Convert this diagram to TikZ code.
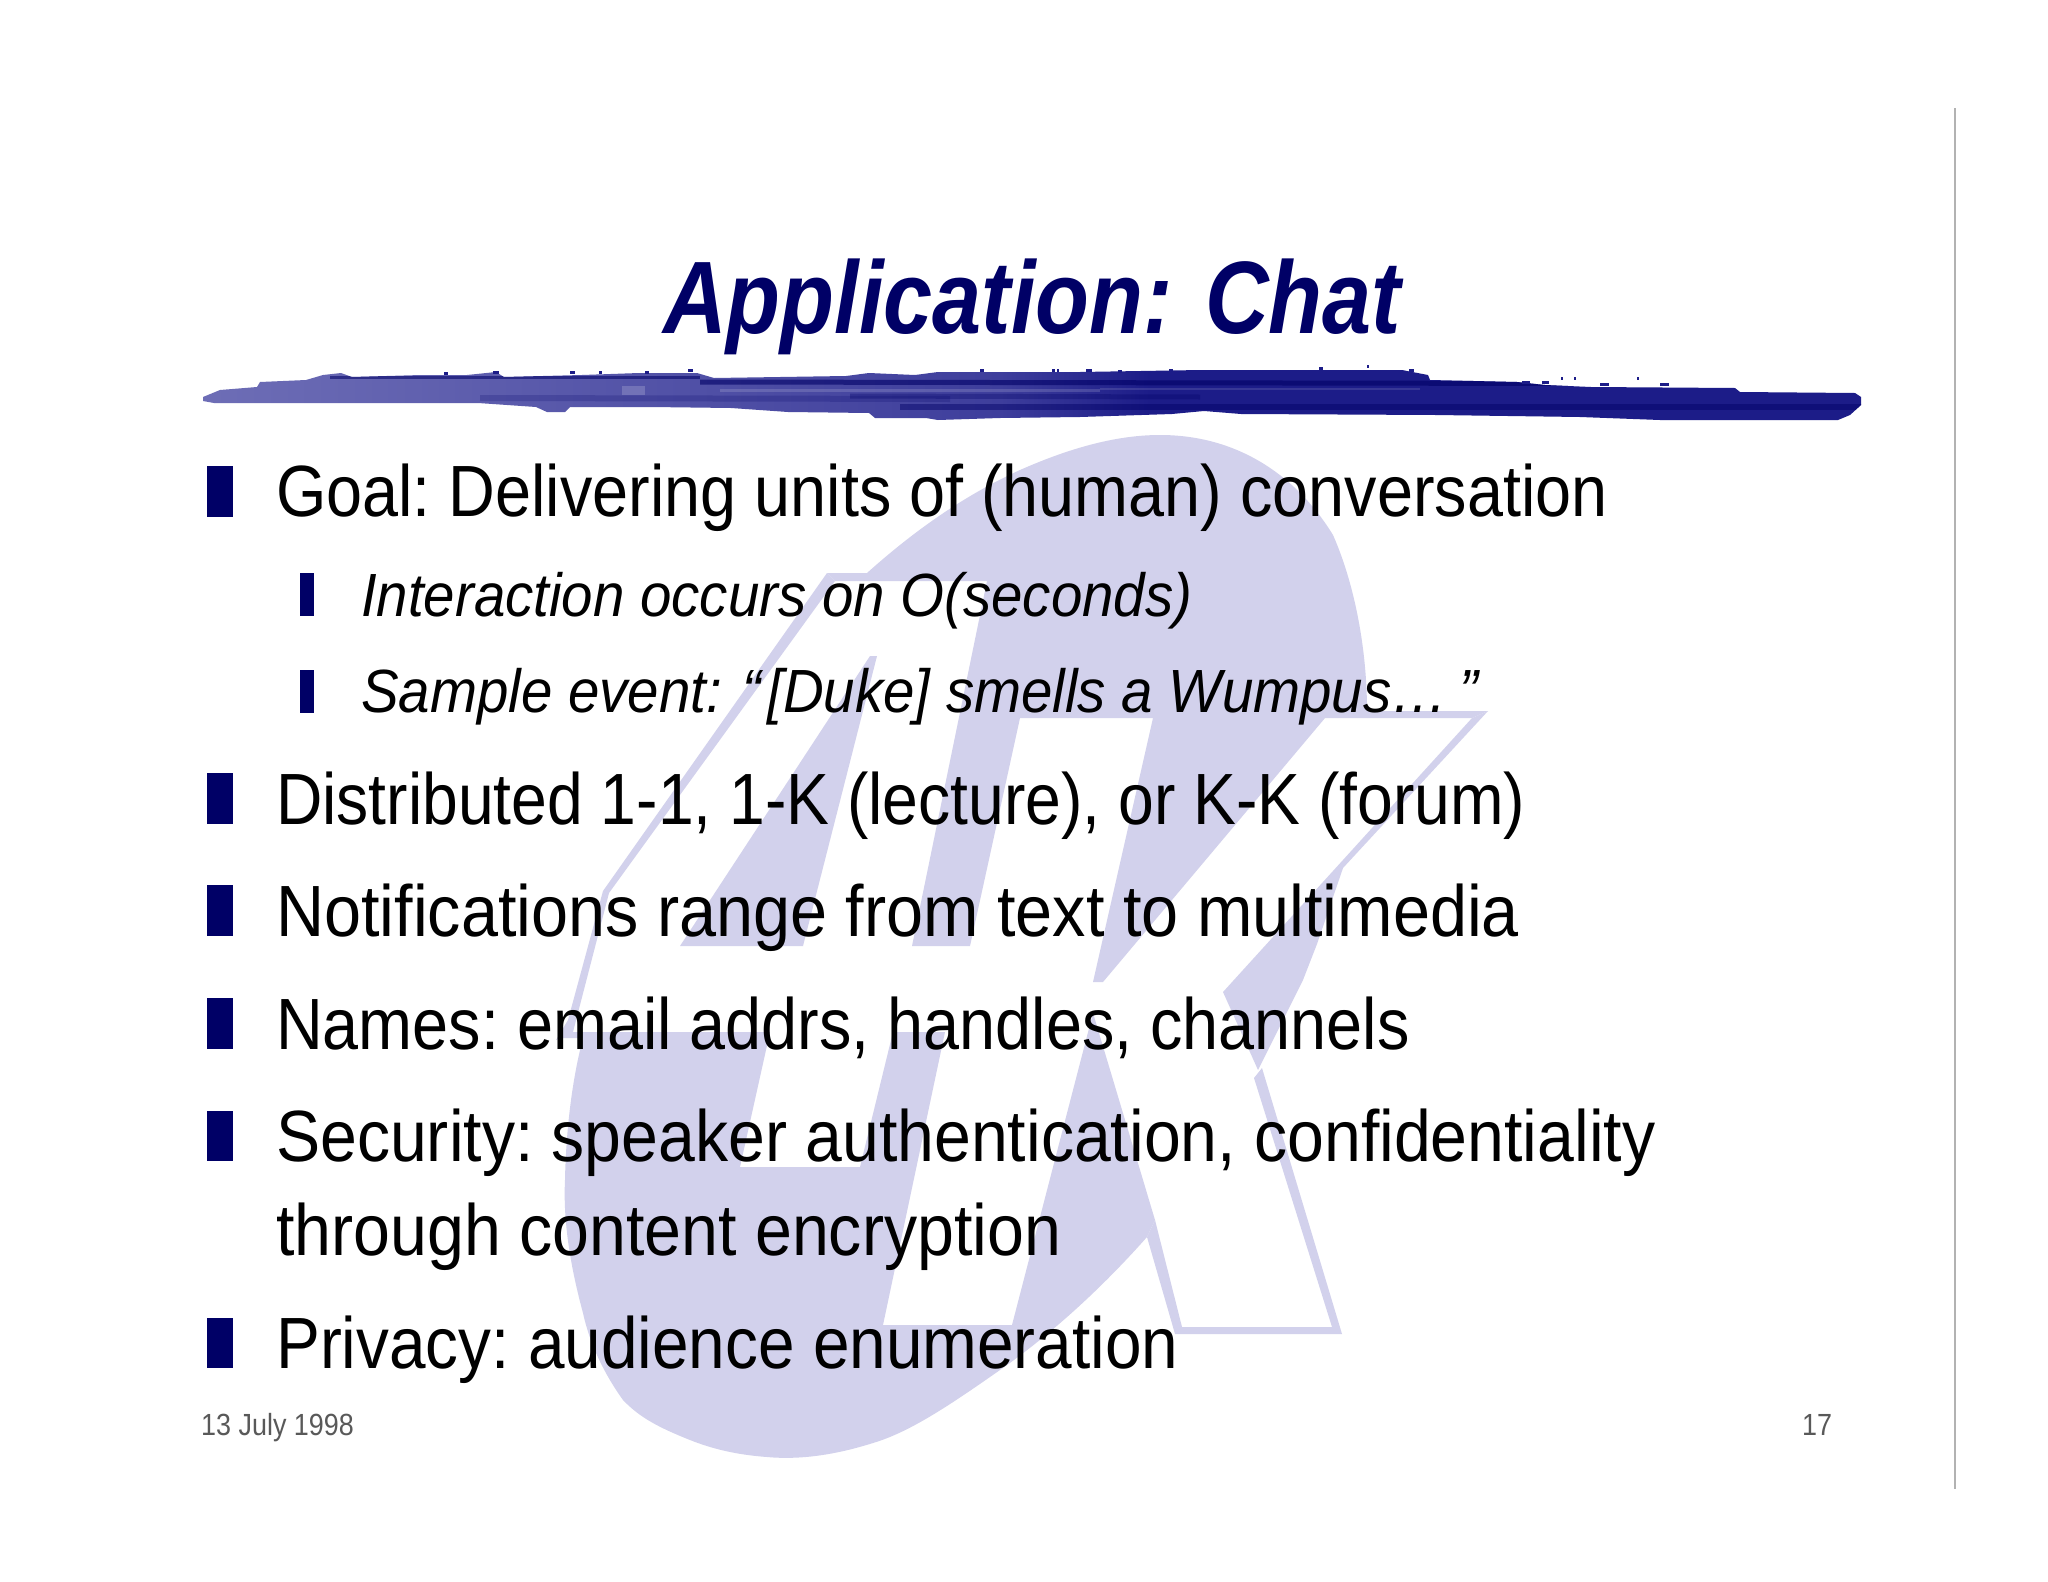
\documentclass[tikz,border=0pt]{standalone}
\usepackage{fontspec}
\usepackage{graphicx}
\setmainfont{Liberation Sans}
\newfontfamily\fbig[FakeStretch=0.89]{Liberation Sans}
\newfontfamily\fsmall[FakeStretch=0.925]{Liberation Sans}
\newfontfamily\ftitle[FakeStretch=0.856]{Liberation Sans}
\newfontfamily\ffoot[FakeStretch=0.88]{Liberation Sans}
\newcommand{\xs}[2]{\scalebox{#1}[1]{#2}}
\definecolor{logoblue}{HTML}{D2D1EC}
\definecolor{navy}{HTML}{000066}
\definecolor{brushL}{HTML}{6E6EB6}
\definecolor{brushM}{HTML}{3E3E9C}
\definecolor{brushR}{HTML}{1C1C88}
\tikzset{
  logo/.style={fill=logoblue,draw=none},
  big/.style={anchor=base west,inner sep=0pt,font=\fbig\fontsize{72.6}{80}\selectfont\frenchspacing,text=black},
  small/.style={anchor=base west,inner sep=0pt,font=\fsmall\fontsize{61}{70}\selectfont\itshape,text=black},
  foot/.style={anchor=base west,inner sep=0pt,font=\ffoot\fontsize{30.6}{34}\selectfont,text=black!65},
  bulletbig/.style={fill=navy,draw=none},
  streak/.style={draw=navy,opacity=0.35,line width=3pt},
}
\begin{document}
\begin{tikzpicture}[x=1pt,y=-1pt]
\useasboundingbox (0,0) rectangle (2048,1582);
\fill[white] (0,0) rectangle (2048,1582);
% logo: top cap with K notch
\fill[logo] (827,573) -- (867,573)
  .. controls (915,530) and (965,495) .. (1020,470)
  .. controls (1072,447) and (1118,435) .. (1160,435)
  .. controls (1240,435) and (1298,478) .. (1333,535)
  .. controls (1355,585) and (1367,650) .. (1367,711)
  -- (1488,711) -- (1472,718) -- (1325,718) -- (1103,982) -- (1093,982) -- (1153,718)
  -- (1020,718) -- (970,946) -- (912,946) -- (987,581) -- (835,581) -- cycle;
% left stripe
\fill[logo] (870,656) -- (877,656) -- (803,946) -- (680,946) -- cycle;
% left outline band
\fill[logo] (827,573) -- (835,581) -- (609,893) -- (573,1032) -- (556,1040) -- (568,1020) -- (603,891) -- cycle;
% U body
\fill[logo] (560,1032) -- (770,1032) -- (740,1167) -- (860,1167) -- (893,1032) -- (945,1032)
  -- (883,1325) -- (1012,1325) -- (1093,1013) -- (1155,1220) -- (1147,1237)
  .. controls (1100,1290) and (1050,1335) .. (1000,1370)
  .. controls (950,1405) and (910,1432) .. (873,1443)
  .. controls (835,1455) and (800,1460) .. (767,1457)
  .. controls (740,1455) and (715,1450) .. (690,1440)
  .. controls (660,1428) and (640,1418) .. (623,1400)
  .. controls (605,1375) and (590,1345) .. (583,1313)
  .. controls (570,1265) and (563,1220) .. (565,1180)
  .. controls (566,1130) and (572,1080) .. (583,1038)
  -- (560,1038) -- cycle;
% K lower outline band
\fill[logo] (1147,1237) -- (1175,1334) -- (1342,1334) -- (1262,1068) -- (1254,1078) -- (1332,1327) -- (1182,1327) -- (1155,1220) -- cycle;
% K arm
\fill[logo] (1488,711) -- (1343,868) -- (1317,944) -- (1303,980) -- (1258,1070) -- (1223,992) -- (1472,718) -- cycle;
% brush stroke
\begin{scope}
\path[clip] (203,397) -- (220,390) -- (257,387) -- (260,382) -- (306,380) -- (323,375) -- (341,373) -- (352,377)
  -- (421,375) -- (467,375) -- (496,372) -- (504,377) -- (582,375) -- (639,373) -- (697,373) -- (714,378)
  -- (846,376) -- (869,373) -- (915,375) -- (938,372) -- (1080,372) -- (1201,370) -- (1402,370) -- (1428,375)
  -- (1430,380) -- (1517,382) -- (1545,385) -- (1591,387) -- (1735,388) -- (1740,392) -- (1855,393) -- (1861,397)
  -- (1861,405) -- (1850,415) -- (1838,420) -- (1792,420) -- (1660,420) -- (1580,417) -- (1436,415) -- (1241,414)
  -- (1204,411) -- (1172,414) -- (1080,417) -- (1000,418) -- (938,420) -- (926,418) -- (875,418) -- (869,413)
  -- (788,412) -- (731,408) -- (651,407) -- (570,407) -- (565,412) -- (547,412) -- (536,407) -- (478,403)
  -- (255,403) -- (214,403) -- (203,401) -- cycle;
\shade[left color=brushL,right color=brushM] (195,365) rectangle (1000,425);
\shade[left color=brushM,right color=brushR] (1000,365) rectangle (1150,425);
\fill[brushR] (1150,365) rectangle (1870,425);
\draw[streak,opacity=.55] (330,377) -- (700,377);
\draw[streak,opacity=.6,line width=5pt] (700,382) -- (1870,384);
\draw[streak,opacity=.3,line width=5pt] (850,396) -- (1200,397);
\draw[streak,opacity=.45,line width=6pt] (900,407) -- (1870,407);
\draw[streak,opacity=.2,line width=6pt] (480,398) -- (950,399);
\draw[streak,draw=white,opacity=.18,line width=9pt] (622,390) -- (645,390);
\draw[streak,draw=white,opacity=.15,line width=3pt] (720,390) -- (1100,390);
\draw[streak,draw=white,opacity=.12,line width=2pt] (1100,389) -- (1420,389);
\end{scope}
\foreach \x/\y/\w in {444/372/4,493/371/6,570/371/5,599/371/3,645/371/4,688/369/5,980/369/4,1052/369/3,1057/369/2,1086/369/6,1118/370/4,1169/369/4,1319/367/4,1367/365/2,1409/369/5,1522/381/8,1542/381/7,1561/377/2,1574/377/2,1600/383/9,1637/377/2,1660/383/9}{
  \fill[brushR] (\x,\y) rectangle ++(\w,3);
}
% bullets
\fill[bulletbig] (207,466) rectangle (233,517);
\fill[bulletbig] (300,573) rectangle (313.5,616);
\fill[bulletbig] (300,670) rectangle (313.5,713);
\fill[bulletbig] (207,773) rectangle (233,824);
\fill[bulletbig] (207,885) rectangle (233,936);
\fill[bulletbig] (207,998) rectangle (233,1049);
\fill[bulletbig] (207,1111) rectangle (233,1161);
\fill[bulletbig] (207,1318) rectangle (233,1368);
% text
\node[anchor=base west,inner sep=0pt,font=\ftitle\fontsize{103}{110}\selectfont\bfseries\itshape,text=navy] (title) at (663,333) {Application: Chat};
\node[big] (l1) at (276,516) {\xs{1.002}{Goal: Delivering units of (human) conversation}};
\node[small] (l2) at (361,616) {Interaction occurs on O(seconds)};
\node[small] (l3) at (361,712) {Sample event: “\kern6pt[Duke] smells a Wumpus…\kern12pt”};
\node[big] (l4) at (276,824) {\xs{.994}{Distributed 1-1, 1-K (lecture), or K-K (forum)}};
\node[big] (l5) at (276,936) {\xs{1.03}{Notifications range from text to multimedia}};
\node[big] (l6) at (276,1049) {\xs{1.002}{Names: email addrs, handles, channels}};
\node[big] (l7) at (276,1161) {\xs{1.024}{Security: speaker authentication, confidentiality}};
\node[big] (l8) at (276,1255) {\xs{1.026}{through content encryption}};
\node[big] (l9) at (276,1368) {\xs{1.017}{Privacy: audience enumeration}};
\node[foot] (date) at (201,1435) {13 July 1998};
\node[foot] (page) at (1802,1435) {17};
% right rule
\draw[black!30,line width=1.5pt] (1955,108) -- (1955,1489);
\end{tikzpicture}
\end{document}
